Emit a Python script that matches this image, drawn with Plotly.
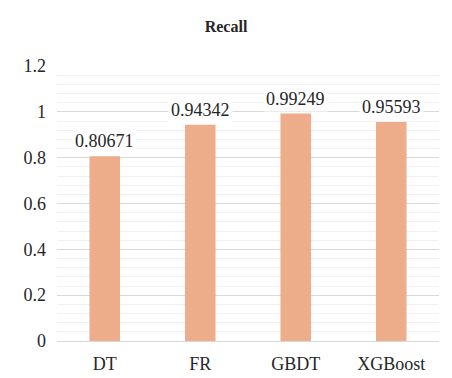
import plotly.graph_objects as go

categories = ["DT", "FR", "GBDT", "XGBoost"]
recall = [0.80671, 0.94342, 0.99249, 0.95593]
labels = ["0.80671", "0.94342", "0.99249", "0.95593"]

SERIF = "Liberation Serif, Times New Roman, serif"
TXT = "#262626"

fig = go.Figure()
fig.add_trace(go.Bar(x=categories, y=recall, marker=dict(color="#EDAD8A", line=dict(width=0)),
                     width=0.32))
for c, v, t in zip(categories, recall, labels):
    fig.add_annotation(x=c, y=v, text=t, showarrow=False, yanchor="bottom", yshift=2,
                       bgcolor="white", borderpad=2,
                       font=dict(family=SERIF, size=18, color=TXT))

fig.update_layout(
    width=452, height=378,
    margin=dict(l=57, r=13, t=66, b=37, autoexpand=False),
    paper_bgcolor="white", plot_bgcolor="white",
    title=dict(text="<b>Recall</b>", x=0.5, xanchor="center", y=0.93, yanchor="middle",
               font=dict(family=SERIF, size=16, color=TXT)),
    showlegend=False,
    font=dict(family=SERIF, size=18, color=TXT),
)
fig.update_yaxes(range=[0, 1.2], tickvals=[0, 0.2, 0.4, 0.6, 0.8, 1, 1.2],
                 ticktext=["0", "0.2", "0.4", "0.6", "0.8", "1", "1.2"],
                 showgrid=True, gridcolor="#D9D9D9", gridwidth=1,
                 minor=dict(dtick=0.04, showgrid=True, gridcolor="#F0F0F0", gridwidth=1),
                 zeroline=False, ticks="", ticklabelstandoff=10, automargin=False,
                 tickfont=dict(family=SERIF, size=18, color=TXT))
fig.update_xaxes(showline=True, linecolor="#D9D9D9", linewidth=1, ticks="", automargin=False,
                 ticklabelstandoff=6,
                 tickfont=dict(family=SERIF, size=18, color=TXT))

fig.write_html("out.html", config={"displayModeBar": False},
               post_script="document.body.style.margin='0';")
